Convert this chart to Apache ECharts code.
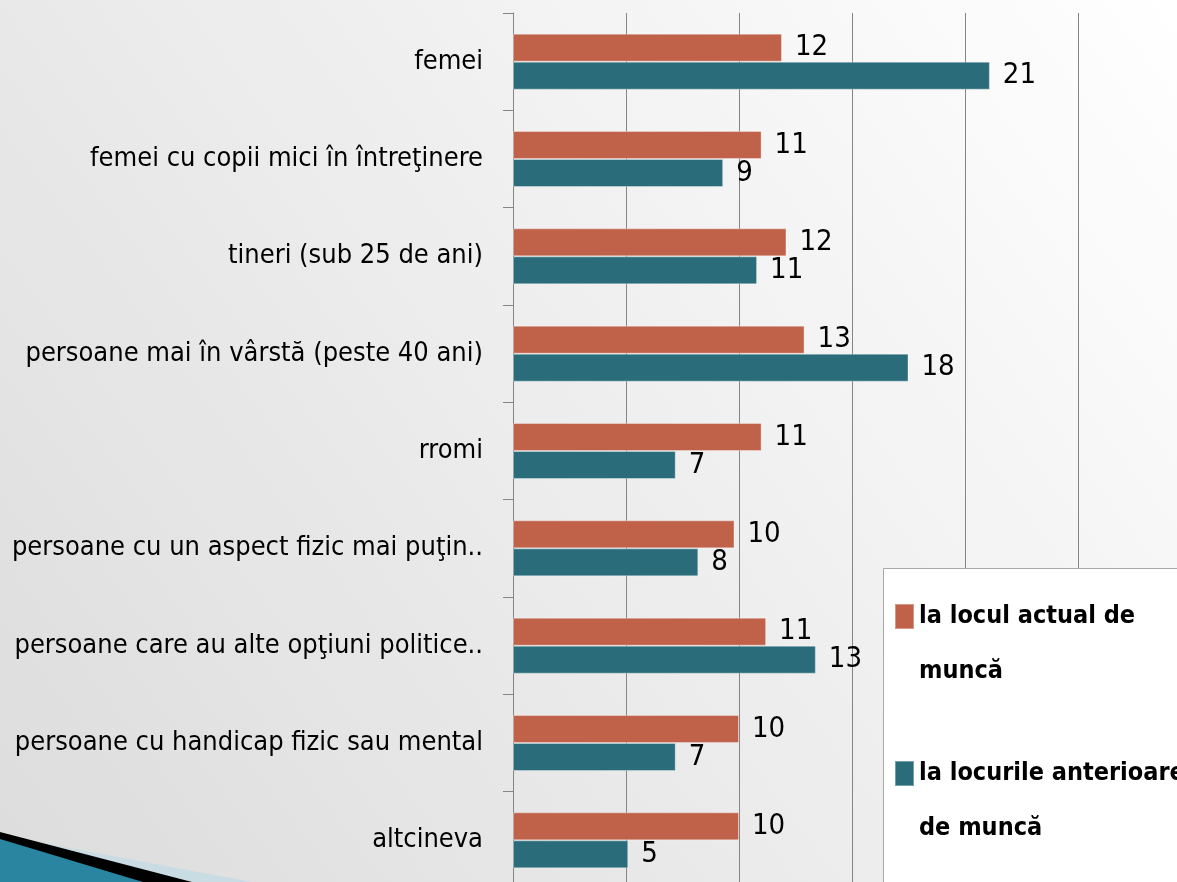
<!DOCTYPE html>
<html>
<head>
<meta charset="utf-8">
<script src="https://cdn.jsdelivr.net/npm/echarts@6/dist/echarts.min.js"></script>
<style>
  html, body { margin: 0; padding: 0; }
  #chart { width: 1177px; height: 882px; }
</style>
</head>
<body>
<div id="chart"></div>
<script>
// categories, top to bottom
const categories = [
  'femei',
  'femei cu copii mici în întreţinere',
  'tineri (sub 25 de ani)',
  'persoane mai în vârstă (peste 40 ani)',
  'rromi',
  'persoane cu un aspect fizic mai puţin..',
  'persoane care au alte opţiuni politice..',
  'persoane cu handicap fizic sau mental',
  'altcineva'
]
const seriesNames = ['la locul actual de muncă', 'la locurile anterioare de muncă']
// bar lengths (labels show them rounded)
const actual = [11.9, 11.0, 12.1, 12.9, 11.0, 9.8, 11.2, 10.0, 10.0]
const previous = [21.1, 9.3, 10.8, 17.5, 7.2, 8.2, 13.4, 7.2, 5.1]
const xTicks = [0, 5, 10, 15, 20, 25, 30]

const FONT = '"Liberation Sans Narrow", "DejaVu Sans Condensed", sans-serif'
const chart = echarts.init(document.getElementById('chart'))

const valueLabel = {
  show: true,
  position: 'right',
  distance: 13,
  fontFamily: FONT,
  fontSize: 29,
  color: '#000',
  formatter: p => Math.round(p.value)
}

// legend text: empty first line so the marker sits next to the first real line
const legendText = {
  'la locul actual de muncă': '\nla locul actual de\nmuncă',
  'la locurile anterioare de muncă': '\nla locurile anterioare\nde muncă'
}

const option = {
  animation: false,
  graphic: [
    {
      type: 'rect',
      z: -10,
      silent: true,
      shape: { x: 0, y: 0, width: 1177, height: 882 },
      style: {
        fill: new echarts.graphic.LinearGradient(1, 0, 0, 1, [
          { offset: 0, color: '#ffffff' },
          { offset: 1, color: '#dcdcdc' }
        ])
      }
    },
    // decoration bottom-left
    {
      type: 'polygon', z: -9, silent: true,
      shape: { points: [[0, 835], [252, 882], [0, 882]] },
      style: { fill: '#c9dbe3' }
    },
    {
      type: 'polygon', z: -8, silent: true,
      shape: { points: [[0, 832], [192, 882], [0, 882]] },
      style: { fill: '#000' }
    },
    {
      type: 'polygon', z: -7, silent: true,
      shape: { points: [[0, 839], [143, 882], [0, 882]] },
      style: { fill: '#2a86a0' }
    },
    // legend box
    {
      type: 'rect', z: 3, silent: true,
      shape: { x: 883.5, y: 568.5, width: 320, height: 340 },
      style: { fill: '#fff', stroke: '#a8a8a8', lineWidth: 1 }
    }
  ],
  grid: {
    left: 513,
    top: 13,
    width: 678,
    height: 876,
    containLabel: false,
    outerBoundsMode: 'none'
  },
  legend: {
    orient: 'vertical',
    left: 894,
    top: 534,
    padding: 0,
    itemGap: -8,
    itemWidth: 19,
    itemHeight: 25,
    icon: 'rect',
    z: 10,
    data: seriesNames,
    formatter: name => legendText[name],
    textStyle: {
      fontFamily: FONT,
      fontSize: 25,
      fontWeight: 'bold',
      color: '#000',
      lineHeight: 55
    }
  },
  xAxis: {
    type: 'value',
    min: xTicks[0],
    max: xTicks[xTicks.length - 1],
    interval: 5,
    axisLabel: { show: false },
    axisLine: { show: false },
    axisTick: { show: false },
    splitLine: { lineStyle: { color: '#858585', width: 1 } }
  },
  yAxis: {
    type: 'category',
    inverse: true,
    data: categories,
    axisLine: { lineStyle: { color: '#858585' } },
    axisTick: { show: true, length: 10, lineStyle: { color: '#858585' } },
    axisLabel: {
      margin: 30,
      fontFamily: FONT,
      fontSize: 27,
      color: '#000',
      padding: [0, 0, 7, 0]
    }
  },
  series: [
    {
      name: seriesNames[0],
      type: 'bar',
      data: actual,
      barWidth: 28,
      barGap: '0%',
      itemStyle: { color: '#bf6249', borderColor: 'rgba(255,255,255,0.35)', borderWidth: 1 },
      label: valueLabel
    },
    {
      name: seriesNames[1],
      type: 'bar',
      data: previous,
      barWidth: 28,
      barGap: '0%',
      itemStyle: { color: '#2b6c7b', borderColor: 'rgba(255,255,255,0.35)', borderWidth: 1 },
      label: valueLabel
    }
  ]
}

chart.setOption(option)
window.addEventListener('resize', () => chart.resize())
</script>
</body>
</html>
